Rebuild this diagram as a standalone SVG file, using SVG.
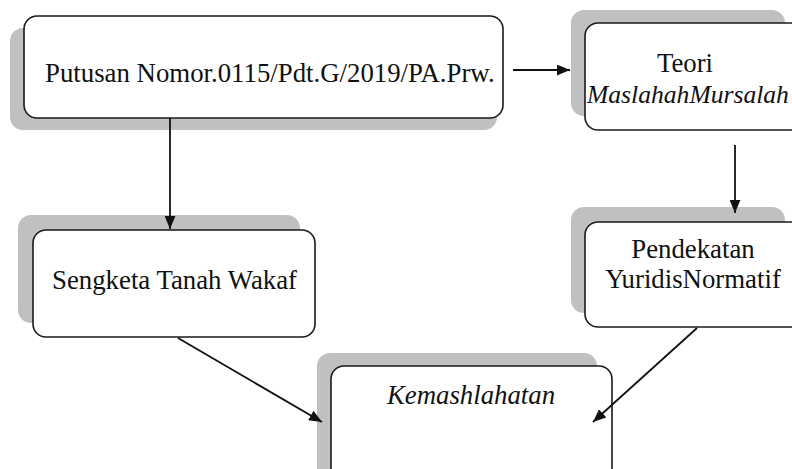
<svg xmlns="http://www.w3.org/2000/svg" width="792" height="469" viewBox="0 0 792 469">
<defs>
<style>
.shadow{fill:#c0c0c0;}
.box{fill:#fff;stroke:#1a1a1a;stroke-width:1.6;}
.t{font-family:"Liberation Serif","Times New Roman",serif;font-size:26.8px;fill:#111;}
.i{font-style:italic;}
.c{stroke:#111;stroke-width:1.8;fill:none;marker-end:url(#ah);}
</style>
<marker id="ah" viewBox="0 0 12 10" refX="12" refY="5" markerWidth="13" markerHeight="11" markerUnits="userSpaceOnUse" orient="auto">
<path d="M0,0 L12,5 L0,10 z" fill="#111"/>
</marker>
</defs>
<rect width="792" height="469" fill="#fff"/>
<g id="n1">
<rect class="shadow" x="10" y="28" width="487" height="102" rx="13"/>
<rect class="box" x="24" y="16" width="479" height="102" rx="13"/>
<text class="t" x="45" y="82">Putusan Nomor.0115/Pdt.G/2019/PA.Prw.</text>
</g>
<g id="n2">
<rect class="shadow" x="571" y="10" width="214" height="106" rx="13"/>
<rect class="box" x="585" y="23" width="230" height="107" rx="13"/>
<text class="t" x="685" y="72" text-anchor="middle">Teori</text>
<text class="t i" x="587" y="103" style="font-size:25.6px">MaslahahMursalah</text>
</g>
<g id="n3">
<rect class="shadow" x="18" y="215" width="282" height="108" rx="13"/>
<rect class="box" x="33" y="230" width="282" height="107" rx="13"/>
<text class="t" x="52" y="289">Sengketa Tanah Wakaf</text>
</g>
<g id="n4">
<rect class="shadow" x="571" y="207" width="214" height="106" rx="13"/>
<rect class="box" x="585" y="222" width="230" height="105" rx="13"/>
<text class="t" x="693" y="258" text-anchor="middle">Pendekatan</text>
<text class="t" x="693" y="288" text-anchor="middle">YuridisNormatif</text>
</g>
<g id="n5">
<rect class="shadow" x="317" y="353" width="280" height="130" rx="13"/>
<rect class="box" x="331" y="366" width="281" height="120" rx="13"/>
<text class="t i" x="471" y="404" text-anchor="middle">Kemashlahatan</text>
</g>
<g id="connectors">
<line class="c" x1="513" y1="70" x2="570" y2="70"/>
<line class="c" x1="170" y1="118" x2="170" y2="229"/>
<line class="c" x1="735" y1="145" x2="735" y2="213"/>
<line class="c" x1="178" y1="338" x2="322" y2="422"/>
<line class="c" x1="697" y1="328" x2="593" y2="422"/>
</g>
</svg>
